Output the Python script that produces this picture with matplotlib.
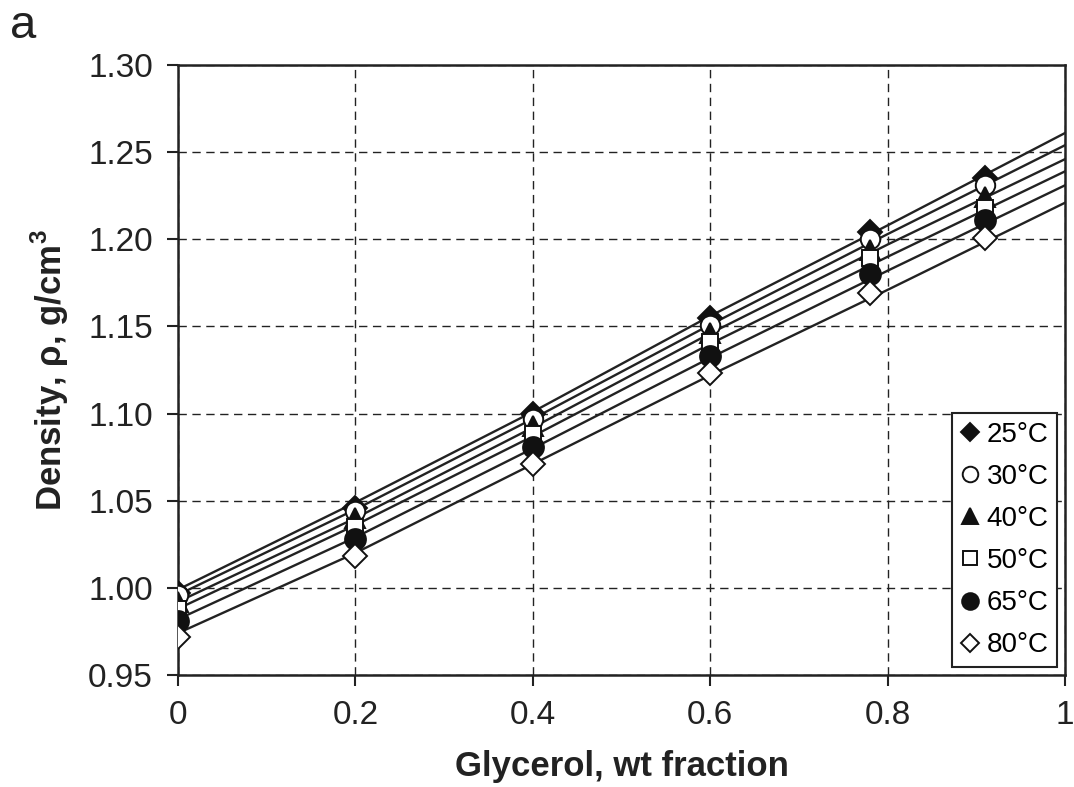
import matplotlib
matplotlib.use('Agg')
import matplotlib.pyplot as plt

plt.rcParams['font.family'] = ['Liberation Sans', 'DejaVu Sans']
plt.rcParams['mathtext.fontset'] = 'custom'
plt.rcParams['mathtext.bf'] = 'Liberation Sans:bold'
plt.rcParams['mathtext.rm'] = 'Liberation Sans'

# measured points, glycerol weight fraction
x_data = [0, 0.2, 0.4, 0.6, 0.78, 0.91]
labels = ['25°C', '30°C', '40°C', '50°C', '65°C', '80°C']
rho_25 = [0.997, 1.046, 1.100, 1.155, 1.204, 1.235]
rho_30 = [0.996, 1.044, 1.097, 1.151, 1.200, 1.231]
rho_40 = [0.992, 1.040, 1.093, 1.146, 1.194, 1.224]
rho_50 = [0.988, 1.035, 1.088, 1.141, 1.189, 1.218]
rho_65 = [0.981, 1.028, 1.081, 1.133, 1.180, 1.211]
rho_80 = [0.972, 1.018, 1.071, 1.123, 1.169, 1.201]

# fitted curves
x_fit = [0, 0.2, 0.4, 0.6, 0.8, 1.0]
fit_25 = [0.999, 1.049, 1.101, 1.156, 1.208, 1.261]
fit_30 = [0.996, 1.045, 1.097, 1.151, 1.203, 1.254]
fit_40 = [0.992, 1.040, 1.092, 1.146, 1.197, 1.246]
fit_50 = [0.988, 1.036, 1.087, 1.140, 1.190, 1.239]
fit_65 = [0.982, 1.029, 1.080, 1.132, 1.182, 1.231]
fit_80 = [0.974, 1.020, 1.071, 1.122, 1.171, 1.221]

fig = plt.figure(figsize=(10.74, 7.87), dpi=100)
fig.patch.set_facecolor('white')
ax = fig.add_axes([0.1657, 0.1423, 0.826, 0.7751])

for fit in [fit_25, fit_30, fit_40, fit_50, fit_65, fit_80]:
    ax.plot(x_fit, fit, color='#222222', lw=1.7, zorder=3)

styles = [
    ('D', '#111111', 12),
    ('o', 'white', 14),
    ('^', '#111111', 14),
    ('s', 'white', 12),
    ('o', '#111111', 15),
    ('D', 'white', 12),
]
series = [rho_25, rho_30, rho_40, rho_50, rho_65, rho_80]
handles = []
for rho, lab, (m, fc, ms) in zip(series, labels, styles):
    h, = ax.plot(x_data, rho, linestyle='none', marker=m, markersize=ms,
                 markerfacecolor=fc, markeredgecolor='#111111',
                 markeredgewidth=1.4, label=lab, zorder=4)
    handles.append(h)

ax.set_xlim(0, 1)
ax.set_ylim(0.95, 1.30)
ax.set_xticks([0, 0.2, 0.4, 0.6, 0.8, 1])
ax.set_xticklabels(['0', '0.2', '0.4', '0.6', '0.8', '1'])
ax.set_yticks([0.95, 1.00, 1.05, 1.10, 1.15, 1.20, 1.25, 1.30])
ax.set_yticklabels(['0.95', '1.00', '1.05', '1.10', '1.15', '1.20', '1.25', '1.30'])
ax.tick_params(axis='both', direction='out', length=8, width=1.5,
               labelsize=24, colors='#222222', pad=10)

ax.grid(True, color='#222222', linestyle=(0, (6, 4)), linewidth=1.0)
ax.set_axisbelow(True)
for s in ax.spines.values():
    s.set_color('#222222')
    s.set_linewidth(1.8)

ax.set_xlabel('Glycerol, wt fraction', fontsize=25, fontweight='bold',
              color='#222222', labelpad=14)
ax.set_ylabel(r'Density, ρ, g/cm$^{\mathbf{3}}$', fontsize=25, fontweight='bold',
              color='#222222', labelpad=12)

leg = ax.legend(handles=handles, loc='lower right', fontsize=20,
                frameon=True, fancybox=False, borderpad=0.3,
                labelspacing=0.58, handlelength=0.7, handletextpad=0.25,
                borderaxespad=0.3, markerscale=0.8)
leg.get_frame().set_edgecolor('#222222')
leg.get_frame().set_linewidth(1.5)
leg.get_frame().set_alpha(1)
leg.set_zorder(5)

fig.text(0.009, 0.967, 'a', fontsize=34, color='#222222', ha='left', va='center')

fig.savefig('out.png', dpi=100, facecolor='white')
